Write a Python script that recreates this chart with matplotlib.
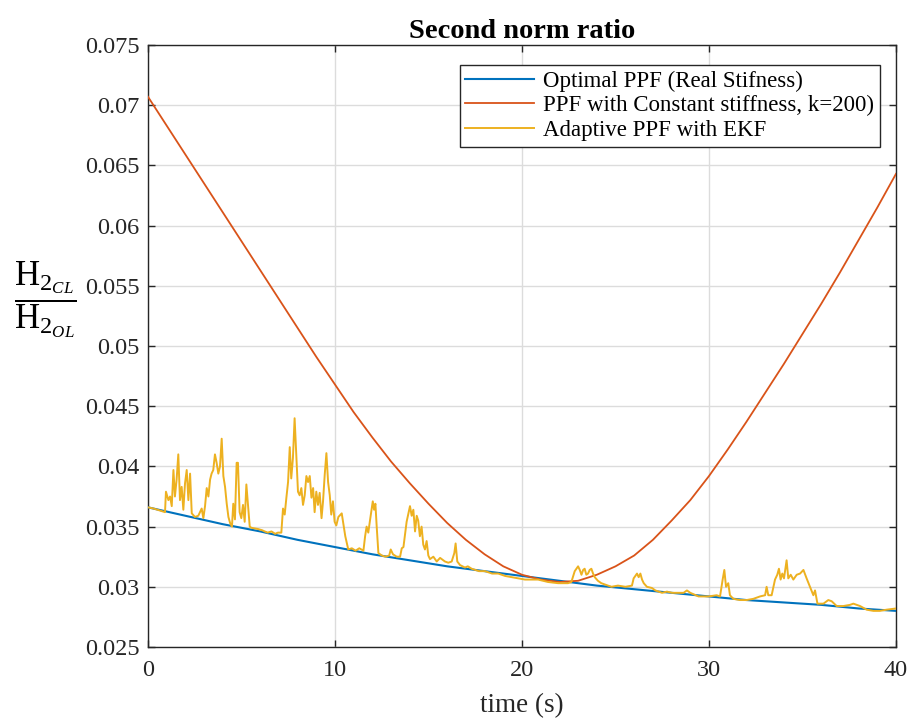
import matplotlib
matplotlib.use("Agg")
import matplotlib.pyplot as plt
import numpy as np

plt.rcParams['font.family'] = ['Liberation Serif', 'DejaVu Serif']
plt.rcParams['mathtext.fontset'] = 'custom'
plt.rcParams['mathtext.rm'] = 'Liberation Serif'
plt.rcParams['mathtext.it'] = 'Liberation Serif:italic'

title = "Second norm ratio"
xlabel = "time (s)"
legend_labels = ["Optimal PPF (Real Stifness)",
                 "PPF with Constant stiffness, k=200)",
                 "Adaptive PPF with EKF"]
xticks = [0, 10, 20, 30, 40]
yticks = [0.025, 0.03, 0.035, 0.04, 0.045, 0.05, 0.055, 0.06, 0.065, 0.07, 0.075]

# Optimal PPF (blue)
blue_t = [0, 2, 4, 6, 8, 10, 12, 14, 16, 18, 20, 22, 24, 26, 28, 30, 32, 34, 36, 38, 40]
blue_v = [0.0366, 0.0359, 0.0352, 0.0346, 0.0339, 0.0333, 0.0327, 0.0322, 0.0317, 0.0313,
          0.0309, 0.0305, 0.0301, 0.0298, 0.0295, 0.0292, 0.0289, 0.0287, 0.0285, 0.0282, 0.0280]

# Constant stiffness PPF (red)
red_t = list(range(0, 41))
red_v = [0.0707, 0.0683, 0.0659, 0.0635, 0.0611, 0.0587, 0.0563, 0.0539, 0.0515, 0.0491,
         0.0468, 0.0445, 0.0424, 0.0404, 0.0386, 0.0369, 0.0353, 0.0339, 0.0327, 0.0317,
         0.0310, 0.0306, 0.0304, 0.0305, 0.0310, 0.0317, 0.0326, 0.0339, 0.0355, 0.0372,
         0.0392, 0.0414, 0.0437, 0.0461, 0.0485, 0.0510, 0.0535, 0.0561, 0.0588, 0.0615, 0.0643]

# Adaptive PPF with EKF (yellow)
yel_t = [0.0, 0.3, 0.5, 0.7, 0.91, 0.96, 1.09, 1.18, 1.27, 1.36, 1.44, 1.53, 1.62, 1.71, 1.80,
         1.89, 1.98, 2.07, 2.16, 2.25, 2.34, 2.51, 2.69, 2.87, 2.96, 3.05, 3.14, 3.23, 3.32,
         3.40, 3.49, 3.58, 3.67, 3.76, 3.85, 3.94, 4.03, 4.12, 4.21, 4.30, 4.39, 4.49, 4.56,
         4.65, 4.74,
         4.81, 4.90, 4.99, 5.08, 5.17, 5.26, 5.35, 5.44, 5.53, 5.88, 6.1, 6.24, 6.4, 6.60, 6.8,
         6.95, 7.13, 7.22, 7.31, 7.40, 7.49, 7.58, 7.66, 7.75, 7.84, 7.93, 8.02, 8.11, 8.20,
         8.29, 8.38, 8.47, 8.56, 8.65, 8.74, 8.83, 8.91, 9.00, 9.09, 9.18, 9.28, 9.36, 9.45,
         9.54, 9.63, 9.72, 9.80, 9.89, 9.98,
         10.07, 10.18, 10.36, 10.55, 10.71, 10.9, 11.1, 11.3, 11.52, 11.61, 11.69, 11.78, 11.87,
         12.02, 12.09, 12.16, 12.23, 12.32, 12.5, 12.7, 12.9, 12.98, 13.1, 13.3, 13.48, 13.57,
         13.66, 13.83, 14.01, 14.10, 14.19, 14.28, 14.37, 14.45, 14.54, 14.63, 14.72, 14.81,
         14.90, 14.99,
         15.08, 15.26, 15.44, 15.62, 15.88, 16.06, 16.24, 16.38, 16.45, 16.54, 16.69, 16.95,
         17.1, 17.31, 17.7, 18.02, 18.4, 18.73, 19.1, 19.45, 19.8, 20.16,
         20.32, 20.86, 21.39, 21.93, 22.46, 22.64, 22.82, 23.0, 23.09, 23.18, 23.27, 23.35,
         23.44, 23.53, 23.62, 23.71, 23.80, 23.89, 24.06, 24.24, 24.42, 24.78, 25.13,
         25.53, 25.88, 25.97, 26.15, 26.24, 26.33, 26.42, 26.51, 26.68, 26.95, 27.13, 27.49,
         27.75, 28.02, 28.38, 28.64, 28.82, 29.0, 29.44, 29.98,
         30.41, 30.59, 30.73, 30.82, 30.91, 31.03, 31.12, 31.30, 31.66, 32.01, 32.37, 32.73,
         33.0, 33.08, 33.17, 33.35, 33.53, 33.65, 33.74, 33.83, 33.92, 34.01, 34.15, 34.24,
         34.37, 34.51, 34.69, 34.87, 35.05, 35.22, 35.40, 35.58, 35.67, 35.80, 36.12, 36.38,
         36.56, 36.83, 37.18, 37.54, 37.72, 38.08, 38.43, 38.79, 39.14, 39.50, 40.0]
yel_v = [0.0366, 0.0365, 0.0364, 0.0363, 0.0362, 0.0379, 0.0372, 0.0375, 0.0367, 0.0397,
         0.0375, 0.0389, 0.0410, 0.0372, 0.0383, 0.0364, 0.0386, 0.0397, 0.0372, 0.0394,
         0.0361, 0.0358, 0.0359, 0.0365, 0.0357, 0.0367, 0.0382, 0.0375, 0.0389, 0.0394,
         0.0397, 0.0410, 0.0403, 0.0394, 0.0400, 0.0423, 0.0392, 0.0383, 0.0369, 0.0358,
         0.0353, 0.0350, 0.0369, 0.0356, 0.0403,
         0.0403, 0.0362, 0.0357, 0.0368, 0.0354, 0.0385, 0.0368, 0.0350, 0.0349, 0.0348,
         0.0347, 0.0346, 0.0345, 0.0346, 0.0344, 0.0345, 0.0345, 0.0365, 0.0360, 0.0374,
         0.0387, 0.0416, 0.0390, 0.0407, 0.0440, 0.0410, 0.0379, 0.0376, 0.0382, 0.0368,
         0.0376, 0.0392, 0.0387, 0.0392, 0.0374, 0.0382, 0.0362, 0.0379, 0.0368, 0.0378,
         0.0357, 0.0371, 0.0393, 0.0411, 0.0387, 0.0376, 0.0360, 0.0371, 0.0354,
         0.0351, 0.0358, 0.0361, 0.0342, 0.0331, 0.0332, 0.0330, 0.0332, 0.0330, 0.0342,
         0.0350, 0.0345, 0.0355, 0.0371, 0.0364, 0.0369, 0.0350, 0.0328, 0.0326, 0.0325,
         0.0326, 0.0331, 0.0327, 0.0325, 0.0325, 0.0332, 0.0333, 0.0354, 0.0367, 0.0359,
         0.0364, 0.0346, 0.0359, 0.0355, 0.0342, 0.0350, 0.0335, 0.0331, 0.0338, 0.0326,
         0.0323, 0.0325, 0.0321, 0.0324, 0.0321, 0.0320, 0.0321, 0.0328, 0.0336, 0.0321,
         0.0318, 0.0316, 0.0317, 0.0315, 0.0313, 0.0313, 0.0311, 0.0311, 0.0309, 0.0308,
         0.0307, 0.0306,
         0.0306, 0.0306, 0.0304, 0.0303, 0.0303, 0.0304, 0.0313, 0.0317, 0.0314, 0.0310,
         0.0314, 0.0315, 0.0310, 0.0311, 0.0314, 0.0315, 0.0311, 0.0308, 0.0305, 0.0303,
         0.0302, 0.0300, 0.0301,
         0.0300, 0.0301, 0.0307, 0.0311, 0.0308, 0.0311, 0.0306, 0.0303, 0.0300, 0.0299,
         0.0297, 0.0295, 0.0296, 0.0295, 0.0295, 0.0295, 0.0297, 0.0295, 0.0292, 0.0292,
         0.0293, 0.0292, 0.0306, 0.0314, 0.0300, 0.0303, 0.0293, 0.0290, 0.0289, 0.0289,
         0.0290, 0.0292, 0.0293, 0.0300, 0.0293, 0.0293, 0.0306, 0.0310, 0.0315, 0.0306,
         0.0311, 0.0307, 0.0322, 0.0307, 0.0310, 0.0306, 0.0310, 0.0311, 0.0314, 0.0307,
         0.0300, 0.0293, 0.0297, 0.0286, 0.0286, 0.0289, 0.0288, 0.0284, 0.0284, 0.0285,
         0.0286, 0.0284, 0.0281, 0.0280, 0.0280, 0.0281, 0.0282]

BLUE = '#0072BD'
RED = '#D95319'
YELLOW = '#EDB120'
DARK = '#262626'

fig = plt.figure(figsize=(9.14, 7.24), dpi=100)
ax = fig.add_axes([148/914, 77/724, 748/914, 602/724])

ax.plot(blue_t, blue_v, color=BLUE, lw=1.5, label=legend_labels[0], zorder=3)
ax.plot(red_t, red_v, color=RED, lw=1.3, label=legend_labels[1], zorder=3)
ax.plot(yel_t, yel_v, color=YELLOW, lw=1.4, label=legend_labels[2], zorder=4)

ax.set_xlim(0, 40)
ax.set_ylim(0.025, 0.075)
ax.set_xticks(xticks)
ax.set_yticks(yticks)
ax.set_yticklabels(['%g' % v for v in yticks])
ax.grid(True, color='#dcdcdc', lw=1.0, zorder=0)
ax.set_axisbelow(True)
ax.tick_params(direction='in', length=5, width=1.0, colors=DARK, labelsize=17.5,
               top=True, right=True)
ax.tick_params(axis='x', pad=9)
ax.tick_params(axis='y', pad=6)
for s in ax.spines.values():
    s.set_color(DARK)
    s.set_linewidth(1.0)

ax.set_title(title, fontsize=20.5, fontweight='bold', pad=5, color='black')
ax.set_xlabel(xlabel, fontsize=19.5, color=DARK, labelpad=9)
ax.text(-0.137, 0.576, r'$\dfrac{\mathrm{H}_{2_{CL}}}{\mathrm{H}_{2_{OL}}}$', transform=ax.transAxes,
        fontsize=25, ha='center', va='center', color='black')

leg = ax.legend(loc='upper right', bbox_to_anchor=(0.9786, 0.9668), borderaxespad=0,
                fontsize=16.5, frameon=True, fancybox=False, edgecolor=DARK,
                handlelength=3.0, handletextpad=0.4, labelspacing=0.15,
                borderpad=0.25)
leg.get_frame().set_linewidth(1.0)
leg.get_frame().set_alpha(1.0)

fig.savefig('out.png', dpi=100)
